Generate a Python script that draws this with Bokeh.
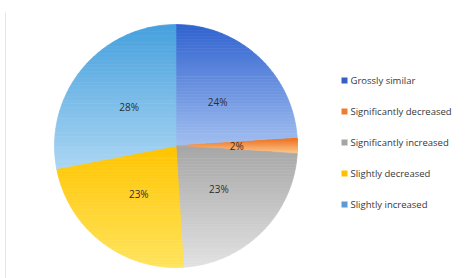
import math
from bokeh.plotting import figure
from bokeh.models import Range1d
from bokeh.core.properties import value
from bokeh.embed import file_html
from bokeh.resources import INLINE

# ---- data ----
categories = ["Grossly similar", "Significantly decreased", "Significantly increased",
              "Slightly decreased", "Slightly increased"]
percents = [24, 2, 23, 23, 28]
pct_labels = ["24%", "2%", "23%", "23%", "28%"]
top_colors = ["#2f62cf", "#ee6f1a", "#a6a6a6", "#ffc400", "#45a0dd"]
bottom_colors = ["#a2bff0", "#fcc890", "#e2e2e2", "#ffe45e", "#abd6f3"]
legend_colors = ["#3461c1", "#ed7d31", "#a5a5a5", "#ffc000", "#5b9bd5"]

W, H = 470, 278
CX, CY, R = 175.5, 145.5, 121.5

p = figure(width=W, height=H, output_backend="svg", toolbar_location=None,
           x_range=Range1d(0, W), y_range=Range1d(H, 0), min_border=0)
p.axis.visible = False
p.grid.visible = False
p.outline_line_color = None
p.background_fill_color = "white"
p.border_fill_color = "white"


def hex2rgb(h):
    h = h.lstrip("#")
    return tuple(int(h[i:i + 2], 16) for i in (0, 2, 4))


def mix(c1, c2, t):
    a, b = hex2rgb(c1), hex2rgb(c2)
    return "#%02x%02x%02x" % tuple(int(round(a[i] + (b[i] - a[i]) * t)) for i in range(3))


def clip(poly, y0, y1):
    def clip_half(pts, keep, inter):
        out = []
        n = len(pts)
        for i in range(n):
            cur, prv = pts[i], pts[i - 1]
            if keep(cur):
                if not keep(prv):
                    out.append(inter(prv, cur))
                out.append(cur)
            elif keep(prv):
                out.append(inter(prv, cur))
        return out

    def inter_y(yy):
        def f(a, b):
            t = (yy - a[1]) / (b[1] - a[1])
            return (a[0] + t * (b[0] - a[0]), yy)
        return f

    pts = clip_half(poly, lambda q: q[1] >= y0, inter_y(y0))
    if not pts:
        return pts
    pts = clip_half(pts, lambda q: q[1] <= y1, inter_y(y1))
    return pts


xs_all, ys_all, cols = [], [], []
total = float(sum(percents))
start = 90.0
mids = []
for k, v in enumerate(percents):
    sweep = 360.0 * v / total
    end = start - sweep
    nseg = max(4, int(sweep / 1.5))
    poly = [(CX, CY)]
    for j in range(nseg + 1):
        a = math.radians(start + (end - start) * j / nseg)
        poly.append((CX + R * math.cos(a), CY - R * math.sin(a)))
    ymin = min(q[1] for q in poly)
    ymax = max(q[1] for q in poly)
    nb = 40
    for b in range(nb):
        y0 = ymin + (ymax - ymin) * b / nb
        y1 = ymin + (ymax - ymin) * (b + 1) / nb
        pts = clip(poly, y0, y1)
        if len(pts) < 3:
            continue
        xs_all.append([q[0] for q in pts])
        ys_all.append([q[1] for q in pts])
        cols.append(mix(top_colors[k], bottom_colors[k], (b + 0.5) / nb))
    mids.append(math.radians((start + end) / 2))
    start = end

p.patches(xs_all, ys_all, fill_color=cols, line_color=cols, line_width=0.7)

# percentage labels
lx = [CX + 0.5 * R * math.cos(m) for m in mids]
ly = [CY - 0.5 * R * math.sin(m) for m in mids]
lx[1] = CX + 0.5 * R * math.cos(mids[1])
p.text(lx, ly, text=pct_labels, text_font=value("Open Sans"), text_font_size="10px",
       text_color="#2e2e2e", text_align="center", text_baseline="middle")

# faint frame line at left
p.segment([5], [12], [5], [278], line_color="#e6e6e6", line_width=1)

# legend
leg_y = [80 + 31 * i for i in range(len(categories))]
p.scatter([344] * len(categories), leg_y, marker="square", size=6,
          fill_color=legend_colors, line_color=None)
p.text([350] * len(categories), leg_y, text=categories, text_font=value("Open Sans"),
       text_font_size="9.5px", text_color="#383838", text_align="left",
       text_baseline="middle")

open("out.html", "w").write(file_html(p, INLINE))
